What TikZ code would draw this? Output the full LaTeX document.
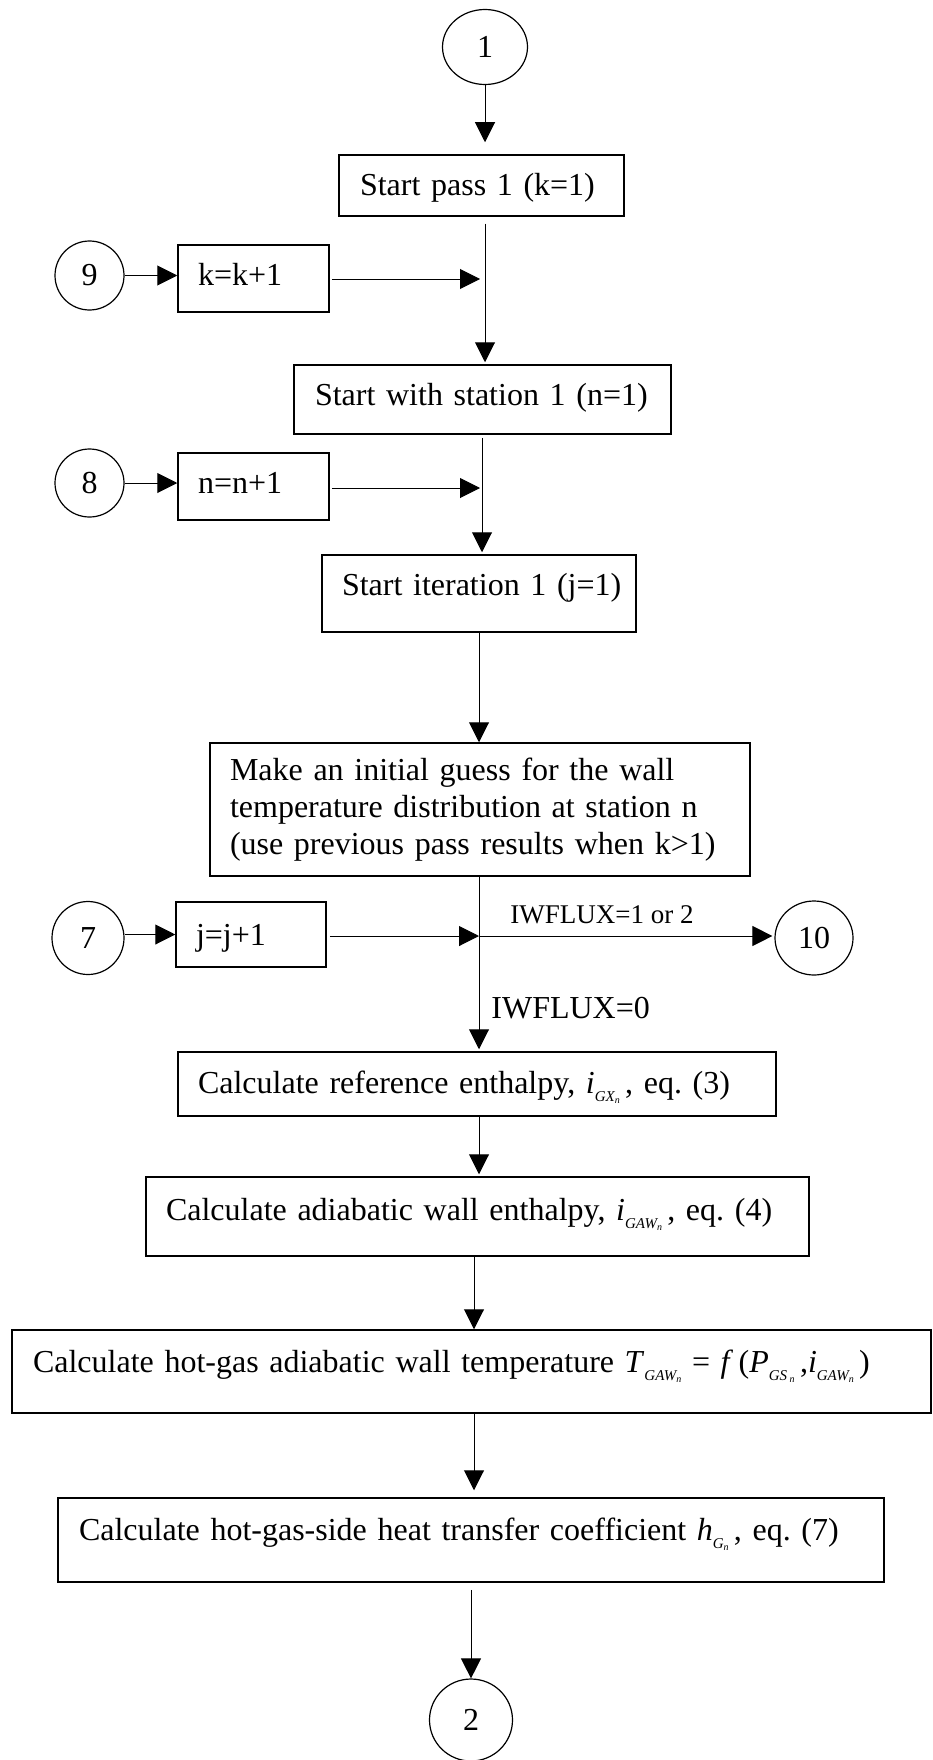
\documentclass[tikz,border=0pt]{standalone}
\usepackage{fontspec}
\setmainfont{Liberation Serif}
\usetikzlibrary{arrows.meta,shapes.geometric}
\newcommand{\vsub}[3]{\textit{#1}\raisebox{-0.55ex}{\fontsize{7.5}{7.5}\selectfont\itshape #2\raisebox{-0.4ex}{\fontsize{5}{5}\selectfont #3}}}
\tikzset{
  every node/.style={font=\fontsize{16}{18.35}\selectfont\frenchspacing},
  box/.style={draw, line width=0.75pt, rectangle, align=left, inner ysep=0pt},
  tb/.style={text height=12pt, text depth=#1},
  conn/.style={ellipse, draw, line width=0.6pt, inner sep=0pt},
  arr/.style={line width=0.5pt, -{Triangle[length=10pt,width=10pt]}},
  ln/.style={line width=0.5pt}
}
\begin{document}
\frenchspacing
\begin{tikzpicture}[x=0.5pt,y=-0.5pt]
\useasboundingbox (0,0) rectangle (932,1760);

% connectors (circles)
\node[conn, minimum width=42.5pt, minimum height=37.5pt] (c1) at (485,47) {1};
\node[conn, minimum width=34.5pt, minimum height=34.5pt] (c9) at (89.5,275.5) {9};
\node[conn, minimum width=34.5pt, minimum height=34pt] (c8) at (89.5,483) {8};
\node[conn, minimum width=36pt, minimum height=36.5pt] (c7) at (88,938) {7};
\node[conn, minimum width=39pt, minimum height=37pt] (c10) at (814,938) {10};
\node[conn, minimum width=41.5pt, minimum height=41pt] (c2) at (471,1720) {2};

% boxes
\node[box, text width=121.5pt, inner xsep=10.5pt, minimum height=30.5pt, tb=1.5pt] (pass) at (481.5,185.5) {\mbox{Start pass 1 (k=1)}};
\node[box, text width=55.5pt, inner xsep=10pt, minimum height=33.5pt, tb=4.8pt] (kbox) at (253.5,278.5) {\mbox{k=k+1}};
\node[box, text width=167.5pt, inner xsep=10.5pt, minimum height=34.5pt, tb=6.5pt] (station) at (482.5,399.5) {\mbox{Start with station 1 (n=1)}};
\node[box, text width=55.5pt, inner xsep=10pt, minimum height=33.5pt, tb=5.5pt] (nbox) at (253.5,486.5) {\mbox{n=n+1}};
\node[box, text width=137pt, inner xsep=10pt, minimum height=38.5pt, tb=10.5pt] (iter) at (479,593.5) {\mbox{Start iteration 1 (j=1)}};
\node[box, text width=250pt, inner xsep=10pt, minimum height=66.5pt] (guess) at (480,809.5) {Make an initial guess for the wall\\temperature distribution at station n\\(use previous pass results when k\textgreater1)};
\node[box, text width=55pt, inner xsep=10pt, minimum height=32.5pt, tb=1.5pt] (jbox) at (251,934.5) {\mbox{j=j+1}};
\node[box, text width=279pt, inner xsep=10pt, minimum height=32pt, tb=3pt] (ref) at (477,1084) {\mbox{Calculate reference enthalpy, \vsub{i}{GX}{n}\,, eq. (3)}};
\node[box, text width=311.5pt, inner xsep=10pt, minimum height=39.5pt, tb=8.5pt] (adia) at (477.5,1216.5) {\mbox{Calculate adiabatic wall enthalpy, \vsub{i}{GAW}{n}\,, eq. (4)}};
\node[box, text width=438.5pt, inner xsep=10.5pt, minimum height=41.5pt, tb=11.5pt] (hot) at (471.5,1371.5) {\mbox{Calculate hot-gas adiabatic wall temperature \vsub{T}{GAW}{n} = \textit{f}\,(\vsub{P}{GS\,}{n}\,,\vsub{i}{GAW}{n}\,)}};
\node[box, text width=392pt, inner xsep=10.5pt, minimum height=42pt, tb=12pt] (htc) at (471,1540) {\mbox{Calculate hot-gas-side heat transfer coefficient \vsub{h}{G}{n}\,, eq. (7)}};

% junction points
\coordinate (m1) at (485,279);
\coordinate (m2) at (482,488);
\coordinate (m3) at (479,936);
\coordinate (x3) at (474,1300);

% labels
\node[anchor=base west, inner sep=0pt, font=\fontsize{13.5}{15}\selectfont] (lab1) at (510,923) {IWFLUX=1 or 2};
\node[anchor=base west, inner sep=0pt] (lab0) at (491,1018) {IWFLUX=0};

% main flow
\draw[arr, shorten >=6pt] (c1.south) -- (c1.south |- pass.north);
\draw[arr, shorten <=3.5pt, shorten >=1pt] (pass.south -| m1) -- (station.north -| m1);
\draw[arr, shorten <=1.5pt, shorten >=1pt] (station.south -| m2) -- (iter.north -| m2);
\draw[arr] (iter.south) -- (iter.south |- guess.north);
\draw[arr, shorten >=1pt] (guess.south -| m3) -- (ref.north -| m3);
\draw[arr, shorten >=1pt] (ref.south -| m3) -- (adia.north -| m3);
\draw[arr] (adia.south -| x3) -- (hot.north -| x3);
\draw[arr, shorten >=3.5pt] (hot.south -| x3) -- (htc.north -| x3);
\draw[arr, shorten <=3.5pt] (htc.south -| c2.north) -- (c2.north);

% side loops
\draw[arr] (c9.east) -- (c9.east -| kbox.west);
\draw[arr, shorten <=1pt, shorten >=2.5pt] (kbox.east |- m1) -- (m1);
\draw[arr] (c8.east) -- (c8.east -| nbox.west);
\draw[arr, shorten <=1pt, shorten >=1pt] (nbox.east |- m2) -- (m2);
\draw[arr] (c7.east |- jbox.west) -- (jbox.west);
\draw[arr, shorten <=1.5pt] (jbox.east |- m3) -- (m3);
\draw[arr, shorten >=1pt] (m3) -- (m3 -| c10.west);
\end{tikzpicture}
\end{document}
